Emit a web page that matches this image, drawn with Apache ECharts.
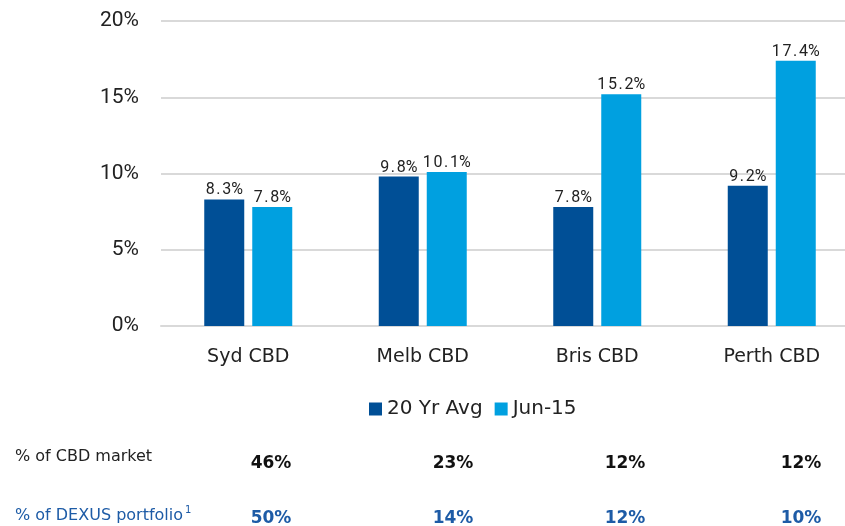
<!DOCTYPE html>
<html>
<head>
<meta charset="utf-8">
<script src="https://cdn.jsdelivr.net/npm/echarts@6/dist/echarts.min.js"></script>
<style>
html,body{margin:0;padding:0;background:#fff;overflow:hidden;}
#c{width:860px;height:526px;}
</style>
</head>
<body>
<div id="c"></div>
<script>
const categories = ['Syd CBD', 'Melb CBD', 'Bris CBD', 'Perth CBD'];
const avg20 = [8.3, 9.8, 7.8, 9.2];
const jun15 = [7.8, 10.1, 15.2, 17.4];
const seriesNames = ['20 Yr Avg', 'Jun-15'];
const rowLabels = ['% of CBD market', '% of DEXUS portfolio'];
const cbdMarket = ['46%', '23%', '12%', '12%'];
const dexusPortfolio = ['50%', '14%', '12%', '10%'];

const chart = echarts.init(document.getElementById('c'), null, {renderer: 'canvas'});
const mainFont = '"DejaVu Sans", sans-serif';
const labelFont = 'Roboto, sans-serif';
const valueX = [271, 453, 625, 801];

const graphics = [];
graphics.push({type: 'text', x: 15, y: 457, style: {text: rowLabels[0], font: '16px ' + mainFont, fill: '#222', textVerticalAlign: 'middle'}});
graphics.push({type: 'text', x: 15, y: 516, style: {text: rowLabels[1], font: '16px ' + mainFont, fill: '#1d5ba6', textVerticalAlign: 'middle'}});
graphics.push({type: 'text', x: 185, y: 510, style: {text: '1', font: '10px ' + mainFont, fill: '#1d5ba6', textVerticalAlign: 'middle'}});
cbdMarket.forEach((v, i) => {
  graphics.push({type: 'text', x: valueX[i], y: 464, style: {text: v, font: 'bold 17px ' + mainFont, fill: '#111', textAlign: 'center', textVerticalAlign: 'middle'}});
});
dexusPortfolio.forEach((v, i) => {
  graphics.push({type: 'text', x: valueX[i], y: 519, style: {text: v, font: 'bold 17px ' + mainFont, fill: '#1d5ba6', textAlign: 'center', textVerticalAlign: 'middle'}});
});

const dataLabel = {
  show: true, position: 'top', distance: 1,
  formatter: p => p.value.toFixed(1).split('').join('\u200A') + '%',
  fontFamily: labelFont, fontSize: 16, color: '#222'
};

chart.setOption({
  animation: false,
  grid: {left: 161, right: 1, top: 21, bottom: 200, containLabel: false, outerBoundsMode: 'none'},
  legend: {
    data: seriesNames, left: 369, top: 399, padding: 0, icon: 'rect', itemWidth: 13, itemHeight: 13, itemGap: 12,
    textStyle: {fontFamily: mainFont, fontSize: 20, color: '#222'}
  },
  xAxis: {
    type: 'category', data: categories,
    axisLine: {lineStyle: {color: '#d9d9d9', width: 2}},
    axisTick: {show: false},
    axisLabel: {fontFamily: mainFont, fontSize: 19, color: '#222', margin: 22}
  },
  yAxis: {
    type: 'value', min: 0, max: 20, interval: 5,
    axisLine: {show: false}, axisTick: {show: false},
    axisLabel: {formatter: '{value}%', fontFamily: labelFont, fontSize: 21, color: '#222', margin: 22},
    splitLine: {lineStyle: {color: '#d9d9d9', width: 2}}
  },
  series: [
    {name: seriesNames[0], type: 'bar', data: avg20, barWidth: 40, barGap: '20%',
     itemStyle: {color: '#004f96'}, label: dataLabel},
    {name: seriesNames[1], type: 'bar', data: jun15, barWidth: 40, barGap: '20%',
     itemStyle: {color: '#00a0e0'}, label: dataLabel}
  ],
  graphic: graphics
});
</script>
</body>
</html>
